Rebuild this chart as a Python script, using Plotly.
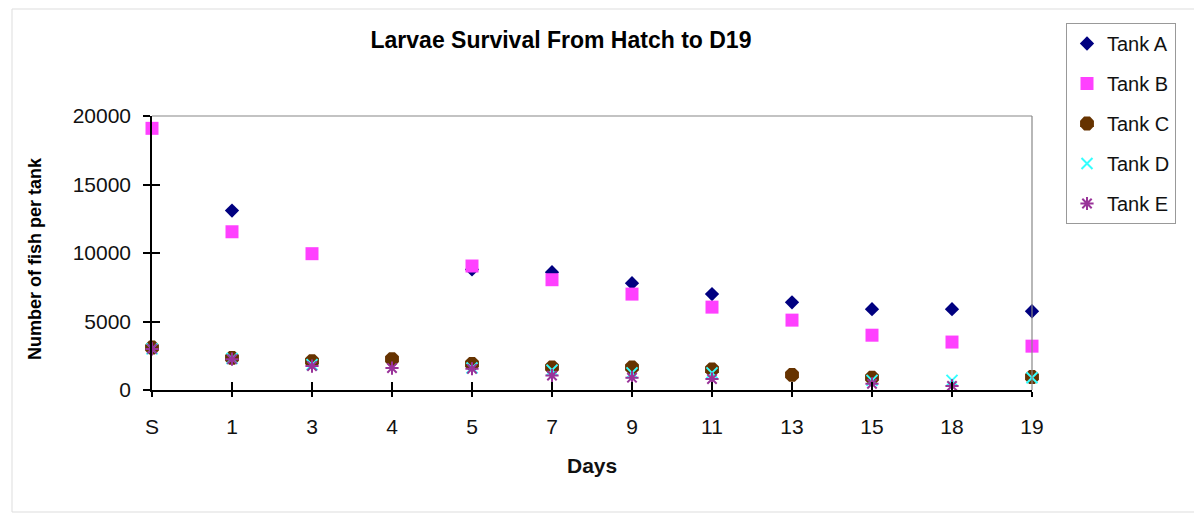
import plotly.graph_objects as go

days = ["S", "1", "3", "4", "5", "7", "9", "11", "13", "15", "18", "19"]
tank_a = [None, 13100, None, None, 8800, 8600, 7800, 7000, 6400, 5900, 5900, 5750]
tank_b = [19100, 11550, 9950, None, 9050, 8050, 7000, 6050, 5100, 4000, 3500, 3200]
tank_c = [3100, 2350, 2100, 2250, 1900, 1650, 1650, 1500, 1100, 900, None, 950]
tank_d = [3000, 2300, 1850, None, 1600, 1450, 1250, 1250, None, 700, 700, 900]
tank_e = [3000, 2250, 1750, 1600, 1550, 1050, 900, 800, None, 450, 300, None]
y_ticks = [0, 5000, 10000, 15000, 20000]

x = list(range(len(days)))

series = [
    ("Tank A", tank_a, "diamond", "#000080", 11),
    ("Tank B", tank_b, "square", "#FF40FF", 13),
    ("Tank C", tank_c, "octagon", "#663300", 15),
    ("Tank D", tank_d, "x-thin-open", "#33FFFF", 11),
    ("Tank E", tank_e, "asterisk-open", "#993399", 11),
]

FONT = "Liberation Sans, Arial, sans-serif"

fig = go.Figure()
for name, vals, sym, col, sz in series:
    fig.add_trace(go.Scatter(
        x=x, y=vals, name=name, mode="markers", cliponaxis=False, legendgroup=name,
        marker=dict(symbol=sym, color=col, size=sz,
                    line=dict(color=col, width=2 if "open" in sym else 0)),
    ))

# invisible trace to carry the inner-tick overlay axes
fig.add_trace(go.Scatter(x=[0, 11], y=[0, 20000], xaxis="x2", yaxis="y2", showlegend=False,
                         mode="markers", marker=dict(opacity=0), hoverinfo="skip"))

axfont = dict(family=FONT, size=21, color="#111")
W, H = 1194, 509
L, T = 144, 108
PW, PH = 880, 274

fig.update_layout(
    width=W, height=H,
    margin=dict(l=L, r=W - L - PW, t=T, b=H - T - PH, pad=0),
    paper_bgcolor="white", plot_bgcolor="white",
    font=axfont,
    title=dict(text="<b>Larvae Survival From Hatch to D19</b>", x=553 / W, xanchor="center",
               y=1 - 32 / H, yanchor="middle",
               font=dict(family=FONT, size=23, color="#000")),
    showlegend=True,
    legend=dict(x=(1066 - 152) / PW, y=(390 - 23) / PH, xanchor="left", yanchor="top",
                bordercolor="#999", borderwidth=1, bgcolor="white",
                font=dict(family=FONT, size=20, color="#111"),
                itemsizing="trace", tracegroupgap=11, itemwidth=30),
    xaxis=dict(range=[0, 11], tickvals=x, ticktext=days, showgrid=False, zeroline=False,
               showline=True, linecolor="#000", linewidth=1.5, mirror=False,
               ticks="outside", ticklen=5, tickcolor="#000", tickwidth=1.5,
               tickfont=axfont, ticklabelstandoff=12),
    yaxis=dict(range=[0, 20000], tickvals=y_ticks, tickformat="d", showgrid=False,
               zeroline=False, showline=True, linecolor="#000", linewidth=1.5,
               ticks="outside", ticklen=7, tickcolor="#000", tickwidth=1.5,
               tickfont=axfont, ticklabelstandoff=8),
    xaxis2=dict(overlaying="x", anchor="y2", range=[0, 11], tickvals=x, showticklabels=False,
                ticks="inside", ticklen=8, tickcolor="#000", tickwidth=1.5,
                showgrid=False, zeroline=False, showline=False, side="bottom"),
    yaxis2=dict(overlaying="y", anchor="x2", range=[0, 20000], tickvals=y_ticks,
                showticklabels=False, ticks="inside", ticklen=8, tickcolor="#000",
                tickwidth=1.5, showgrid=False, zeroline=False, showline=False, side="left"),
)

fig.add_annotation(text="<b>Number of fish per tank</b>", textangle=-90,
                   xref="paper", yref="paper", x=(35 - 152) / PW, y=(390 - 258) / PH,
                   xanchor="center", yanchor="middle", showarrow=False,
                   font=dict(family=FONT, size=18, color="#000"))
fig.add_annotation(text="<b>Days</b>", xref="paper", yref="paper",
                   x=(592 - 152) / PW, y=(390 - 466) / PH, xanchor="center", yanchor="middle",
                   showarrow=False, font=dict(family=FONT, size=21, color="#111"))

# grey top and right border of plot area
fig.add_shape(type="line", xref="paper", yref="paper", x0=0, x1=1, y0=1, y1=1,
              line=dict(color="#888", width=1.2))
fig.add_shape(type="line", xref="paper", yref="paper", x0=1, x1=1, y0=0, y1=1,
              line=dict(color="#888", width=1.2))
# outer chart border
fig.add_shape(type="rect", xref="paper", yref="paper", layer="below",
              x0=(12 - 152) / PW, x1=(1196 - 152) / PW,
              y0=(390 - 512) / PH, y1=(390 - 9) / PH,
              line=dict(color="#ddd", width=1))

fig.write_html("out.html")
